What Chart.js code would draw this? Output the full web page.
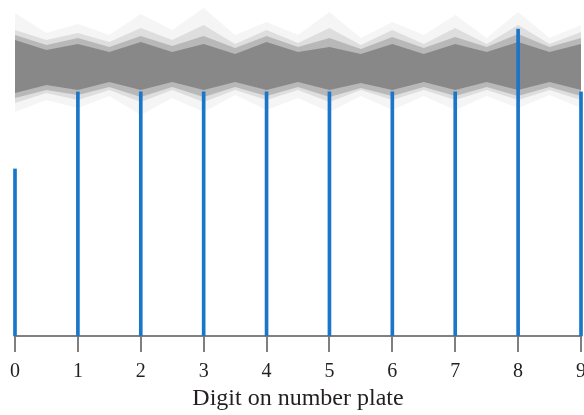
<!DOCTYPE html>
<html>
<head>
<meta charset="utf-8">
<script src="https://cdn.jsdelivr.net/npm/chart.js"></script>
<style>
  html, body { margin: 0; padding: 0; background: #fff; overflow: hidden; }
  #wrap { width: 584px; height: 415px; overflow: hidden; }
</style>
</head>
<body>
<div id="wrap"><canvas id="digitChart" width="594" height="415"></canvas></div>
<script>
// digits on the plate and the observed share for each one
const digits = [0, 1, 2, 3, 4, 5, 6, 7, 8, 9];
const observed = [6.96, 10.17, 10.17, 10.17, 10.17, 10.17, 10.17, 10.17, 12.79, 10.17];

// simulated runs, read as envelopes at every half digit
const bandX = [0, 0.5, 1, 1.5, 2, 2.5, 3, 3.5, 4, 4.5, 5, 5.5, 6, 6.5, 7, 7.5, 8, 8.5, 9];
const coreTop = [12.33, 11.92, 12.17, 11.83, 12.25, 11.83, 12.17, 11.75, 12.25, 11.83, 12.04, 11.75, 12.17, 11.75, 12.17, 11.83, 12.25, 11.83, 12.17];
const coreBottom = [10.13, 10.46, 10.25, 10.58, 10.25, 10.58, 10.25, 10.58, 10.25, 10.58, 10.25, 10.54, 10.25, 10.58, 10.25, 10.58, 10.25, 10.58, 10.25];
const softTop = [12.54, 12.13, 12.42, 12.04, 12.5, 12.08, 12.5, 12.0, 12.5, 12.04, 12.42, 11.96, 12.46, 12.0, 12.46, 12.04, 12.58, 12.04, 12.42];
const softBottom = [9.92, 10.25, 10.04, 10.38, 9.96, 10.38, 9.96, 10.38, 10.0, 10.38, 9.96, 10.33, 10.0, 10.38, 10.0, 10.38, 10.0, 10.38, 10.0];
const midTop = [12.75, 12.33, 12.63, 12.25, 12.83, 12.33, 12.96, 12.17, 12.75, 12.21, 12.83, 12.13, 12.75, 12.17, 12.83, 12.17, 12.96, 12.17, 12.67];
const midBottom = [9.71, 10.13, 9.83, 10.25, 9.75, 10.25, 9.75, 10.25, 9.83, 10.25, 9.75, 10.25, 9.83, 10.25, 9.83, 10.25, 9.83, 10.25, 9.83];
const faintTop = [13.46, 12.63, 13.0, 12.54, 13.42, 12.75, 13.67, 12.54, 13.08, 12.54, 13.5, 12.42, 13.08, 12.54, 13.38, 12.42, 13.5, 12.42, 12.96];
const faintBottom = [9.33, 9.83, 9.5, 10.0, 9.21, 9.92, 9.33, 10.04, 9.42, 9.92, 9.33, 10.0, 9.42, 10.0, 9.42, 10.0, 9.5, 10.04, 9.5];

const xTitle = 'Digit on number plate';

function pts(ys){ return bandX.map((x, i) => ({ x: x, y: ys[i] })); }

function edge(ys, fill, color){
	return {
		type: 'line',
		data: pts(ys),
		borderWidth: 0,
		borderColor: 'rgba(0,0,0,0)',
		pointRadius: 0,
		tension: 0,
		fill: fill,
		backgroundColor: color
	};
}

const ctx = document.getElementById('digitChart').getContext('2d');
new Chart(ctx, {
	type: 'bar',
	data: {
		datasets: [
			{
				type: 'bar',
				data: digits.map((d, i) => ({ x: d, y: observed[i] })),
				backgroundColor: '#1a76c8',
				barThickness: 3,
				clip: false
			},
			edge(coreTop, '+1', 'rgba(128,128,128,0.85)'),
			edge(coreBottom, false, 'rgba(0,0,0,0)'),
			edge(softTop, '+1', 'rgba(128,128,128,0.4)'),
			edge(softBottom, false, 'rgba(0,0,0,0)'),
			edge(midTop, '+1', 'rgba(128,128,128,0.2)'),
			edge(midBottom, false, 'rgba(0,0,0,0)'),
			edge(faintTop, '+1', 'rgba(128,128,128,0.08)'),
			edge(faintBottom, false, 'rgba(0,0,0,0)')
		]
	},
	options: {
		responsive: false,
		animation: false,
		layout: { padding: { left: 15, right: 13, top: 0, bottom: 0 } },
		plugins: { legend: { display: false }, tooltip: { enabled: false } },
		scales: {
			x: {
				type: 'linear',
				min: 0,
				max: 9,
				offset: false,
				grid: { offset: false, drawOnChartArea: false, drawTicks: true, tickLength: 16, color: '#7f7f7f', lineWidth: 2 },
				border: { display: true, color: '#808080', width: 2 },
				ticks: { stepSize: 1, padding: 8, color: '#231f20', font: { family: 'Liberation Serif', size: 20, lineHeight: 1.2 } },
				title: { display: true, text: xTitle, color: '#231f20', padding: { top: 0, bottom: 9.8 }, font: { family: 'Liberation Serif', size: 24, lineHeight: 0.55 } }
			},
			y: { display: false, min: 0, max: 14 }
		}
	}
});
</script>
</body>
</html>
